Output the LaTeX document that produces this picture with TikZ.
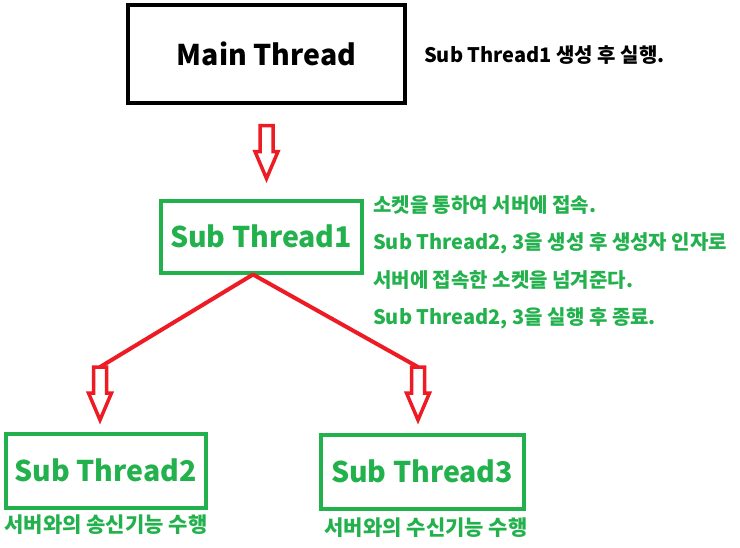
\documentclass[tikz,border=0pt]{standalone}
\usepackage{fontspec}
\setmainfont{Noto Sans CJK KR}
\definecolor{pgreen}{HTML}{22B14C}
\definecolor{pred}{HTML}{ED1C24}
\tikzset{
  x=1pt,y=-1pt,
  box/.style={draw,rectangle,line width=4pt,inner sep=0pt,font=\fontsize{28.5}{32}\selectfont\bfseries},
  gbox/.style={box,draw=pgreen,text=pgreen},
  note/.style={anchor=west,inner sep=0pt,font=\fontsize{20}{24}\selectfont\bfseries},
  gnote/.style={note,text=pgreen},
  capt/.style={gnote,anchor=center,font=\fontsize{21}{24}\selectfont\bfseries},
  redline/.style={draw=pred,line width=4pt,line join=round},
  hollow/.style={draw=pred,line width=3.5pt,fill=white,line join=miter},
  pics/harrow/.style={code={
    \path[hollow] (-6.5,0) -- (6.5,0) -- (6.5,26) -- (11.5,26) -- (0,53) -- (-11.5,26) -- (-6.5,26) -- cycle;
  }}
}
\begin{document}
\begin{tikzpicture}
\useasboundingbox (0,0) rectangle (740,547);
\node[box,minimum width=277pt,minimum height=98pt] (main) at (266.5,53.5) {Main Thread};
\node[note] (mnote) at (424,55) {Sub Thread1 생성 후 실행.};
\node[gbox,minimum width=201pt,minimum height=72pt] (sub1) at (261,236.5) {Sub Thread1};
\node[gnote] (n1) at (373,205) {소켓을 통하여 서버에 접속.};
\node[gnote] (n2) at (373,243) {Sub Thread2, 3을 생성 후 생성자 인자로};
\node[gnote] (n3) at (373,280.5) {서버에 접속한 소켓을 넘겨준다.};
\node[gnote] (n4) at (373,318) {Sub Thread2, 3을 실행 후 종료.};
\node[gbox,minimum width=200pt,minimum height=74pt] (sub2) at (105.5,470.5) {Sub Thread2};
\node[gbox,minimum width=203pt,minimum height=74pt] (sub3) at (422,471.5) {Sub Thread3};
\node[capt] (c2) at (106,525) {서버와의 송신기능 수행};
\node[capt] (c3) at (426,528) {서버와의 수신기능 수행};
\coordinate (apex) at ([xshift=-8pt]sub1.south);
\coordinate (la) at (100,367);
\coordinate (ra) at (418,367);
\pic at ([yshift=-21pt]main.south) {harrow};
\draw[redline] (la) -- (apex) -- (ra);
\pic at (la) {harrow};
\pic at (ra) {harrow};
\end{tikzpicture}
\end{document}
